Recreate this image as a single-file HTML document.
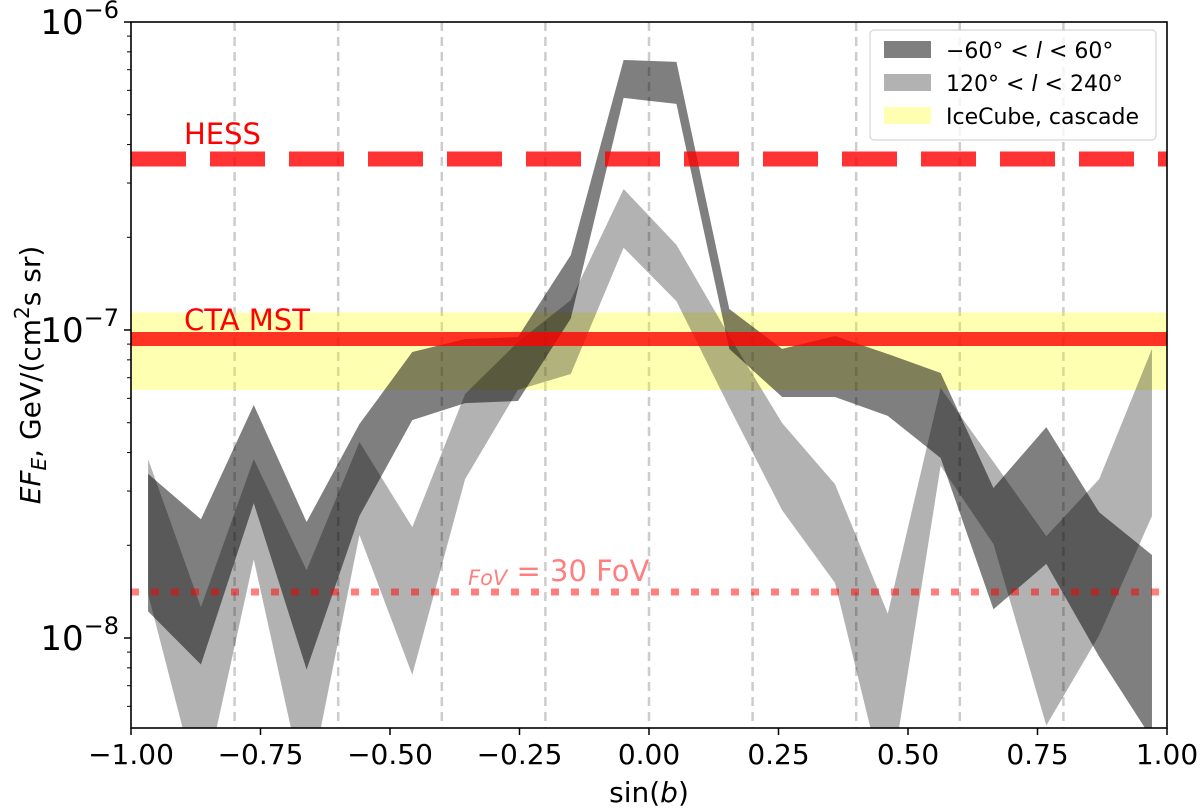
<!DOCTYPE html>
<html><head><meta charset="utf-8"><style>
body{margin:0;background:#fff;}
svg{display:block;font-family:"DejaVu Sans","Liberation Sans",sans-serif;}
</style></head><body>
<svg id="chart" width="1200" height="811" viewBox="0 0 1200 811" xmlns="http://www.w3.org/2000/svg">
<defs><clipPath id="plotclip"><rect x="131" y="22" width="1036" height="706"/></clipPath></defs>
<g id="plot" clip-path="url(#plotclip)"></g>
<g id="axes"></g>
</svg>
<script>
const xCenters=[-0.967,-0.865,-0.763,-0.661,-0.559,-0.457,-0.355,-0.253,-0.151,-0.049,0.053,0.155,0.257,0.359,0.461,0.563,0.665,0.767,0.869,0.971];
// values in units of 1e-8 GeV/(cm2 s sr)
const innerUpper=[3.41,2.43,5.71,2.38,4.95,8.48,9.35,9.49,17.5,75.3,74.2,11.7,8.68,9.56,8.36,7.25,3.07,4.84,2.56,1.86];
const innerLower=[1.22,0.82,2.74,0.79,2.49,5.10,5.79,5.88,10.9,56.7,54.2,8.68,6.06,6.06,5.26,3.84,1.24,1.74,0.87,0.47];
const outerUpper=[3.81,1.26,3.81,1.66,4.33,2.29,6.20,9.14,12.5,28.7,18.9,9.56,4.99,3.16,1.20,6.48,3.73,2.14,3.28,8.68];
const outerLower=[1.39,0.30,1.80,0.30,2.16,0.76,3.28,6.39,7.20,18.5,12.4,5.62,2.60,1.51,0.30,3.62,2.02,0.52,1.02,2.49];
const hessLevel=35.9, ctaLevel=9.35, fovLevel=1.41;
const iceLow=6.39, iceHigh=11.4;
const xTicks=[-1.00,-0.75,-0.50,-0.25,0.00,0.25,0.50,0.75,1.00];
const vGrid=[-0.8,-0.6,-0.4,-0.2,0,0.2,0.4,0.6,0.8];
const yDecades=[-6,-7,-8];

const NS="http://www.w3.org/2000/svg";
const X0=131,X1=1167,Y0=22,Y1=728;
const xs=v=>X0+(v+1)/2*(X1-X0);
const ys=v=>22-( Math.log10(v*1e-8)+6)*308;
const plot=document.getElementById('plot'),axes=document.getElementById('axes');
function mk(tag,attrs,parent){const e=document.createElementNS(NS,tag);for(const k in attrs)e.setAttribute(k,attrs[k]);parent.appendChild(e);return e;}

let e;
vGrid.forEach(g=>{e=mk('line',{x1:xs(g),x2:xs(g),y1:Y0,y2:Y1,stroke:'#000','stroke-opacity':0.2,'stroke-width':2.5,'stroke-dasharray':'9,6'},plot);

});
e=mk('rect',{x:X0,y:ys(iceHigh),width:X1-X0,height:ys(iceLow)-ys(iceHigh),fill:'#ffff00','fill-opacity':0.3},plot);


function band(up,lo,op){
  let d='M'+xCenters.map((x,i)=>xs(x)+','+ys(up[i])).join('L');
  for(let i=xCenters.length-1;i>=0;i--)d+='L'+xs(xCenters[i])+','+ys(lo[i]);
  return mk('path',{d:d+'Z',fill:'#000','fill-opacity':op},plot);
}
e=band(outerUpper,outerLower,0.3);


e=band(innerUpper,innerLower,0.5);


e=mk('line',{x1:X0,x2:X1,y1:ys(hessLevel),y2:ys(hessLevel),stroke:'#ff0000','stroke-opacity':0.8,'stroke-width':15,'stroke-dasharray':'55,24'},plot);


e=mk('line',{x1:X0,x2:X1,y1:ys(ctaLevel),y2:ys(ctaLevel),stroke:'#ff0000','stroke-opacity':0.8,'stroke-width':14},plot);


e=mk('line',{x1:X0,x2:X1,y1:ys(fovLevel),y2:ys(fovLevel),stroke:'#ff0000','stroke-opacity':0.5,'stroke-width':7,'stroke-dasharray':'8,12'},plot);


e=mk('text',{x:184,y:ys(hessLevel)-15,fill:'#ff0000','font-size':29},plot);e.textContent='HESS';


e=mk('text',{x:184,y:ys(ctaLevel)-9,fill:'#ff0000','font-size':29},plot);e.textContent='CTA MST';


e=mk('text',{x:468,y:ys(fovLevel)-11,fill:'#ff0000','fill-opacity':0.5,'font-size':29},plot);
e.setAttribute('xml:space','preserve');
e.innerHTML='<tspan font-style="italic" font-size="21" dy="4">FoV</tspan><tspan dy="-4"> = 30   FoV</tspan>';


e=mk('rect',{x:X0,y:Y0,width:X1-X0,height:Y1-Y0,fill:'none',stroke:'#000','stroke-width':1.6},axes);


xTicks.forEach(t=>{mk('line',{x1:xs(t),x2:xs(t),y1:Y1,y2:Y1+7,stroke:'#000','stroke-width':1.5},axes);
e=mk('text',{x:xs(t),y:Y1+36,'text-anchor':'middle','font-size':28},axes);e.textContent=(t<0?'\u2212':'')+Math.abs(t).toFixed(2);

});
yDecades.forEach(p=>{const y=ys(Math.pow(10,p+8));mk('line',{x1:X0-7,x2:X0,y1:y,y2:y,stroke:'#000','stroke-width':1.5},axes);
e=mk('text',{x:X0-12,y:y+12,'text-anchor':'end','font-size':34},axes);
e.innerHTML='10<tspan font-size="24" dy="-16">\u2212'+(-p)+'</tspan>';

});
for(let p=-9;p<=-7;p++)for(let m=2;m<=9;m++){const v=m*Math.pow(10,p+8);const y=ys(v);if(y<Y0||y>Y1)continue;
mk('line',{x1:X0-4,x2:X0,y1:y,y2:y,stroke:'#000','stroke-width':1},axes);}
e=mk('text',{x:649,y:802,'text-anchor':'middle','font-size':28},axes);
e.innerHTML='sin(<tspan font-style="italic">b</tspan>)';


e=mk('text',{x:0,y:0,'text-anchor':'middle','font-size':28,transform:'translate(40,375) rotate(-90)'},axes);
e.innerHTML='<tspan font-style="italic">EF</tspan><tspan font-style="italic" font-size="20" dy="6">E</tspan><tspan dy="-6">, GeV/(cm</tspan><tspan font-size="20" dy="-11">2</tspan><tspan dy="11">s sr)</tspan>';


const lg=mk('g',{},axes);


mk('rect',{x:870,y:30,width:286,height:110,rx:4,fill:'#fff','fill-opacity':0.8,stroke:'#ccc'},lg);
const ents=[['#000',0.5,'\u221260\u00b0 < <tspan font-style="italic">l</tspan> < 60\u00b0'],['#000',0.3,'120\u00b0 < <tspan font-style="italic">l</tspan> < 240\u00b0'],['#ffff00',0.3,'IceCube, cascade']];
ents.forEach((en,i)=>{const g=mk('g',{},lg);


mk('rect',{x:884,y:41+i*33,width:47,height:17,fill:en[0],'fill-opacity':en[1]},g);
const t=mk('text',{x:946,y:58+i*33,'font-size':22},g);t.innerHTML=en[2];});
</script>
</body></html>
